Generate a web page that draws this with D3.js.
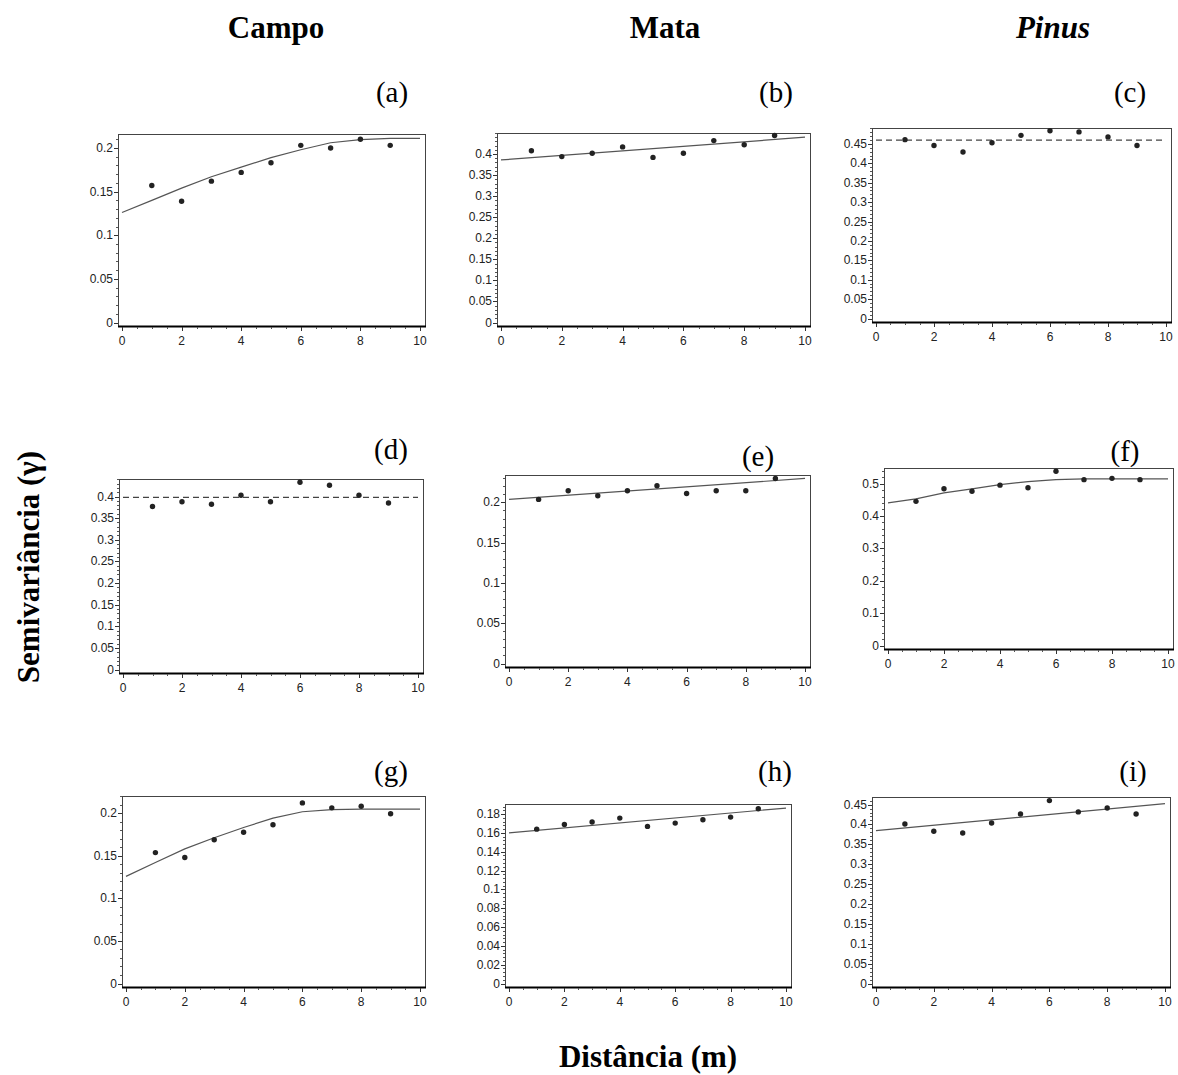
<!DOCTYPE html>
<html>
<head>
<meta charset="utf-8">
<script src="https://d3js.org/d3.v7.min.js"></script>
<style>
  body { margin: 0; background: #fff; }
  svg { display: block; }
  .tick-label { font-family: "Liberation Sans", Arial, sans-serif; font-size: 12px; fill: #222; }
  .title { font-family: "Liberation Serif", "Times New Roman", serif; font-weight: bold; font-size: 31px; fill: #000; }
  .panel-tag { font-family: "Liberation Serif", "Times New Roman", serif; font-size: 29px; fill: #000; }
</style>
</head>
<body>
<script>
  // lag distances of the experimental points
  var lags = [1, 2, 3, 4, 5, 6, 7, 8, 9];
  var curveLags = [0, 1, 2, 3, 4, 5, 6, 7, 8, 9, 10];
  var lineLags = [0, 10];
  var xTicks = [0, 2, 4, 6, 8, 10];

  // experimental semivariances, one array per panel
  var gammaA = [0.157, 0.139, 0.162, 0.172, 0.183, 0.203, 0.200, 0.210, 0.203];
  var gammaB = [0.408, 0.394, 0.402, 0.417, 0.392, 0.402, 0.432, 0.422, 0.444];
  var gammaC = [0.461, 0.446, 0.429, 0.453, 0.472, 0.484, 0.481, 0.468, 0.446];
  var gammaD = [0.377, 0.388, 0.382, 0.403, 0.388, 0.433, 0.426, 0.403, 0.385];
  var gammaE = [0.2037, 0.2144, 0.2082, 0.2144, 0.2206, 0.2111, 0.2144, 0.2144, 0.2297];
  var gammaF = [0.445, 0.484, 0.476, 0.495, 0.487, 0.538, 0.512, 0.516, 0.512];
  var gammaG = [0.1536, 0.1479, 0.1686, 0.1774, 0.1862, 0.2119, 0.2061, 0.2080, 0.1992];
  var gammaH = [0.1640, 0.1690, 0.1715, 0.1757, 0.1669, 0.1704, 0.1740, 0.1768, 0.1857];
  var gammaI = [0.4012, 0.3827, 0.3785, 0.4037, 0.4264, 0.4600, 0.4315, 0.4415, 0.4264];

  // fitted models
  var modelA = [0.126, 0.140, 0.154, 0.167, 0.178, 0.189, 0.198, 0.206, 0.2095, 0.211, 0.211];
  var modelB = [0.386, 0.440];
  var sillC = 0.460;
  var sillD = 0.398;
  var modelE = [0.2037, 0.2297];
  var modelF = [0.4406, 0.4529, 0.4713, 0.4836, 0.4969, 0.5061, 0.5123, 0.5143, 0.5143, 0.5143, 0.5143];
  var modelG = [0.1257, 0.142, 0.158, 0.171, 0.183, 0.194, 0.2015, 0.204, 0.2045, 0.2045, 0.2045];
  var modelH = [0.1601, 0.1864];
  var modelI = [0.3844, 0.4525];

  // y tick values per panel
  var yTicksA = [0, 0.05, 0.1, 0.15, 0.2];
  var yTicksB = [0, 0.05, 0.1, 0.15, 0.2, 0.25, 0.3, 0.35, 0.4];
  var yTicksC = [0, 0.05, 0.1, 0.15, 0.2, 0.25, 0.3, 0.35, 0.4, 0.45];
  var yTicksD = [0, 0.05, 0.1, 0.15, 0.2, 0.25, 0.3, 0.35, 0.4];
  var yTicksE = [0, 0.05, 0.1, 0.15, 0.2];
  var yTicksF = [0, 0.1, 0.2, 0.3, 0.4, 0.5];
  var yTicksG = [0, 0.05, 0.1, 0.15, 0.2];
  var yTicksH = [0, 0.02, 0.04, 0.06, 0.08, 0.1, 0.12, 0.14, 0.16, 0.18];
  var yTicksI = [0, 0.05, 0.1, 0.15, 0.2, 0.25, 0.3, 0.35, 0.4, 0.45];

  var columnTitles = ['Campo', 'Mata', 'Pinus'];
  var panelTags = ['(a)', '(b)', '(c)', '(d)', '(e)', '(f)', '(g)', '(h)', '(i)'];

  // panels: data + layout (box = left, top, right, bottom)
  var panels = [
    {tag: 0, pts: gammaA, model: modelA, mx: curveLags, yTicks: yTicksA, yMax: 0.216, box: [118, 134, 425, 326], tagPos: [392, 102]},
    {tag: 1, pts: gammaB, model: modelB, mx: lineLags, yTicks: yTicksB, yMax: 0.45, box: [497, 133, 810, 326], tagPos: [776, 102]},
    {tag: 2, pts: gammaC, sill: sillC, yTicks: yTicksC, yMax: 0.491, box: [872, 128, 1171, 322], tagPos: [1130, 102]},
    {tag: 3, pts: gammaD, sill: sillD, yTicks: yTicksD, yMax: 0.4405, box: [119, 479, 423, 673], tagPos: [391, 459]},
    {tag: 4, pts: gammaE, model: modelE, mx: lineLags, yTicks: yTicksE, yMax: 0.234, box: [505, 475, 810, 667], tagPos: [758, 466]},
    {tag: 5, pts: gammaF, model: modelF, mx: curveLags, yTicks: yTicksF, yMax: 0.548, box: [884, 468, 1173, 649], tagPos: [1125, 461]},
    {tag: 6, pts: gammaG, model: modelG, mx: curveLags, yTicks: yTicksG, yMax: 0.220, box: [122, 796, 425, 987], tagPos: [391, 781]},
    {tag: 7, pts: gammaH, model: modelH, mx: lineLags, yTicks: yTicksH, yMax: 0.1907, box: [505, 804, 791, 987], tagPos: [775, 781]},
    {tag: 8, pts: gammaI, model: modelI, mx: lineLags, yTicks: yTicksI, yMax: 0.469, box: [872, 797, 1170, 987], tagPos: [1133, 781]}
  ];

  var width = 1178;
  var height = 1075;
  var svg = d3.select('body').append('svg')
    .attr('width', width)
    .attr('height', height);

  var fmt = function(d) { return d === 0 ? '0' : String(+d.toFixed(3)); };

  panels.forEach(function(p) {
    var x0 = p.box[0], y0 = p.box[1], x1 = p.box[2], y1 = p.box[3];
    var xScale = d3.scaleLinear().domain([0, 10]).range([x0 + 4, x1 - 5]);
    var yScale = d3.scaleLinear().domain([0, p.yMax]).range([y1 - 3.5, y0]);
    var g = svg.append('g');

    // frame
    g.append('rect')
      .attr('x', x0 + 0.5).attr('y', y0 + 0.5)
      .attr('width', x1 - x0).attr('height', y1 - y0)
      .attr('fill', 'none').attr('stroke', '#444').attr('stroke-width', 1);
    g.append('line')
      .attr('x1', x0).attr('x2', x1 + 1)
      .attr('y1', y1 + 0.5).attr('y2', y1 + 0.5)
      .attr('stroke', '#000').attr('stroke-width', 2.2);

    // y axis: major + minor ticks
    var step = p.yTicks[1] - p.yTicks[0];
    var minor = d3.range(0, p.yMax + 1e-9, step / 5);
    g.selectAll('.ymin').data(minor).enter().append('line')
      .attr('x1', x0 - 2).attr('x2', x0)
      .attr('y1', function(d) { return Math.round(yScale(d)) + 0.5; })
      .attr('y2', function(d) { return Math.round(yScale(d)) + 0.5; })
      .attr('stroke', '#555').attr('stroke-width', 1);
    g.selectAll('.ymaj').data(p.yTicks).enter().append('line')
      .attr('x1', x0 - 4).attr('x2', x0)
      .attr('y1', function(d) { return Math.round(yScale(d)) + 0.5; })
      .attr('y2', function(d) { return Math.round(yScale(d)) + 0.5; })
      .attr('stroke', '#333').attr('stroke-width', 1);
    g.selectAll('.ylab').data(p.yTicks).enter().append('text')
      .attr('class', 'tick-label')
      .attr('x', x0 - 5)
      .attr('y', function(d) { return yScale(d) + 4; })
      .attr('text-anchor', 'end')
      .text(fmt);

    // x axis: ticks every 0.5, labels every 2
    g.selectAll('.xmin').data(d3.range(0, 10.01, 0.5)).enter().append('line')
      .attr('x1', function(d) { return Math.round(xScale(d)) + 0.5; })
      .attr('x2', function(d) { return Math.round(xScale(d)) + 0.5; })
      .attr('y1', y1 + 1).attr('y2', y1 + 3)
      .attr('stroke', '#555');
    g.selectAll('.xmaj').data(xTicks).enter().append('line')
      .attr('x1', function(d) { return Math.round(xScale(d)) + 0.5; })
      .attr('x2', function(d) { return Math.round(xScale(d)) + 0.5; })
      .attr('y1', y1 + 1).attr('y2', y1 + 5)
      .attr('stroke', '#333');
    g.selectAll('.xlab').data(xTicks).enter().append('text')
      .attr('class', 'tick-label')
      .attr('x', function(d) { return xScale(d); })
      .attr('y', y1 + 19)
      .attr('text-anchor', 'middle')
      .text(function(d) { return d; });

    // model
    if (p.model) {
      var line = d3.line()
        .x(function(d, i) { return xScale(p.mx[i]); })
        .y(function(d) { return yScale(d); });
      g.append('path')
        .datum(p.model)
        .attr('d', line)
        .attr('fill', 'none')
        .attr('stroke', '#555')
        .attr('stroke-width', 1.2);
    }
    if (p.sill !== undefined) {
      g.append('line')
        .attr('x1', xScale(0)).attr('x2', xScale(10))
        .attr('y1', yScale(p.sill)).attr('y2', yScale(p.sill))
        .attr('stroke', '#444')
        .attr('stroke-width', 1.2)
        .attr('stroke-dasharray', '6,4');
    }

    // experimental points
    g.selectAll('.pt').data(p.pts).enter().append('circle')
      .attr('cx', function(d, i) { return xScale(lags[i]); })
      .attr('cy', function(d) { return yScale(d); })
      .attr('r', 2.7)
      .attr('fill', '#222');

    // panel tag
    g.append('text')
      .attr('class', 'panel-tag')
      .attr('x', p.tagPos[0]).attr('y', p.tagPos[1])
      .attr('text-anchor', 'middle')
      .text(panelTags[p.tag]);
  });

  // column titles
  var titleX = [276, 665, 1053];
  svg.selectAll('.col-title').data(columnTitles).enter().append('text')
    .attr('class', 'title')
    .attr('x', function(d, i) { return titleX[i]; })
    .attr('y', 38)
    .attr('text-anchor', 'middle')
    .style('font-style', function(d, i) { return i === 2 ? 'italic' : 'normal'; })
    .text(function(d) { return d; });

  // axis titles
  svg.append('text')
    .attr('class', 'title')
    .attr('transform', 'translate(39,567) rotate(-90)')
    .attr('text-anchor', 'middle')
    .text('Semivariância (γ)');
  svg.append('text')
    .attr('class', 'title')
    .attr('x', 648).attr('y', 1067)
    .attr('text-anchor', 'middle')
    .text('Distância (m)');
</script>
</body>
</html>
